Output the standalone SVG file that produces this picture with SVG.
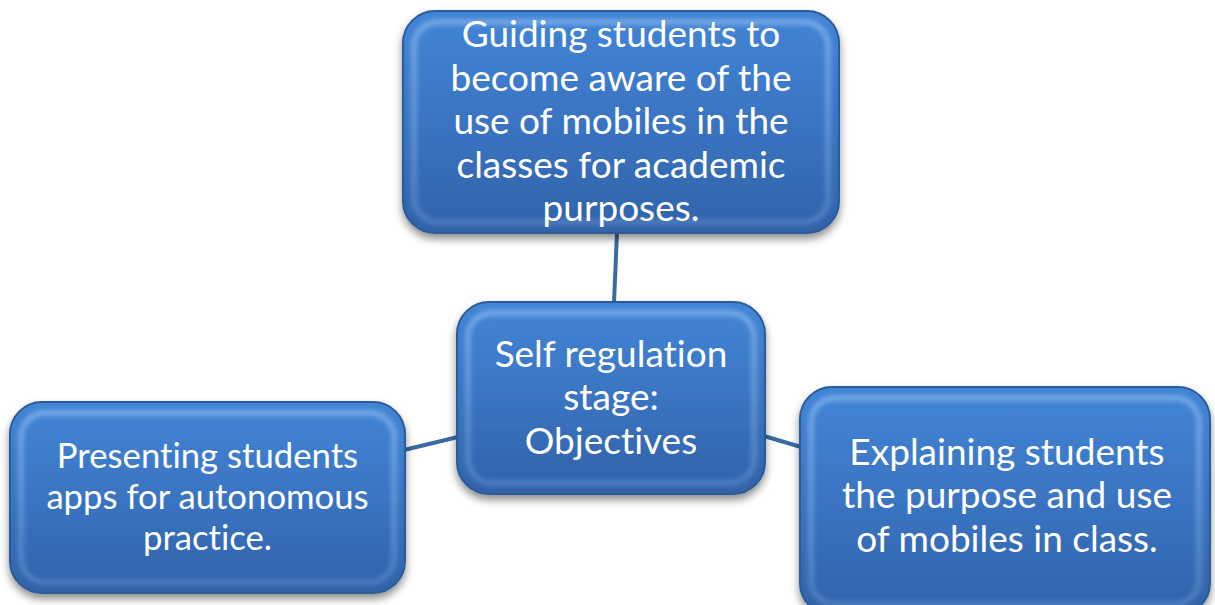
<svg xmlns="http://www.w3.org/2000/svg" width="1215" height="605" viewBox="0 0 1215 605">
  <defs>
    <linearGradient id="fill" x1="0" y1="0" x2="0" y2="1">
      <stop offset="0" stop-color="#4285d6"/>
      <stop offset="0.5" stop-color="#3a74c2"/>
      <stop offset="1" stop-color="#3062a8"/>
    </linearGradient>
    <linearGradient id="rim" x1="0" y1="0" x2="0" y2="1">
      <stop offset="0" stop-color="#9fc7f5" stop-opacity="0.65"/>
      <stop offset="1" stop-color="#8db6e8" stop-opacity="0.35"/>
    </linearGradient>
    <filter id="shadow" x="-10%" y="-10%" width="120%" height="130%">
      <feGaussianBlur in="SourceAlpha" stdDeviation="4"/>
      <feOffset dx="0" dy="5" result="b"/>
      <feComponentTransfer><feFuncA type="linear" slope="0.45"/></feComponentTransfer>
      <feMerge><feMergeNode/><feMergeNode in="SourceGraphic"/></feMerge>
    </filter>
    <filter id="soft" x="-5%" y="-5%" width="110%" height="110%">
      <feGaussianBlur stdDeviation="2.5"/>
    </filter>
  </defs>
  <style>
    .box { fill: url(#fill); stroke: #2b5b97; stroke-width: 2; filter: url(#shadow); }
    .bevel { fill: none; stroke: url(#rim); stroke-width: 5; filter: url(#soft); }
    .label { font-family: Lato, "Open Sans", sans-serif; font-size: 37px; fill: #ffffff; text-anchor: middle; font-variant-ligatures: none; }
    .small { font-size: 34.7px; }
    .link { stroke: #3a6aa3; stroke-width: 4; fill: none; }
  </style>

  <g id="connectors">
    <line class="link" x1="617" y1="232" x2="614" y2="303"/>
    <line class="link" x1="404" y1="450" x2="458" y2="437"/>
    <line class="link" x1="764" y1="436" x2="801" y2="447"/>
  </g>

  <g id="node-guiding">
    <rect class="box" x="403" y="11" width="436" height="222" rx="32"/>
    <rect class="bevel" x="414" y="22" width="414" height="200" rx="24"/>
    <text class="label" x="621" y="47">Guiding students to</text>
    <text class="label" x="621" y="90.5">become aware of the</text>
    <text class="label" x="621" y="134">use of mobiles in the</text>
    <text class="label" x="621" y="177.5">classes for academic</text>
    <text class="label" x="621" y="221">purposes.</text>
  </g>

  <g id="node-center">
    <rect class="box" x="457" y="302" width="308" height="192" rx="32"/>
    <rect class="bevel" x="468" y="313" width="286" height="170" rx="24"/>
    <text class="label" x="611" y="367">Self regulation</text>
    <text class="label" x="611" y="410">stage:</text>
    <text class="label" x="611" y="454">Objectives</text>
  </g>

  <g id="node-presenting">
    <rect class="box" x="10" y="402" width="395" height="191" rx="32"/>
    <rect class="bevel" x="21" y="413" width="373" height="169" rx="24"/>
    <text class="label small" x="207.5" y="468">Presenting students</text>
    <text class="label small" x="207.5" y="509">apps for autonomous</text>
    <text class="label small" x="207.5" y="550">practice.</text>
  </g>

  <g id="node-explaining">
    <rect class="box" x="800" y="387" width="410" height="228" rx="32"/>
    <rect class="bevel" x="811" y="398" width="388" height="206" rx="24"/>
    <text class="label" x="1007" y="465">Explaining students</text>
    <text class="label" x="1007" y="508">the purpose and use</text>
    <text class="label" x="1007" y="552">of mobiles in class.</text>
  </g>
</svg>
